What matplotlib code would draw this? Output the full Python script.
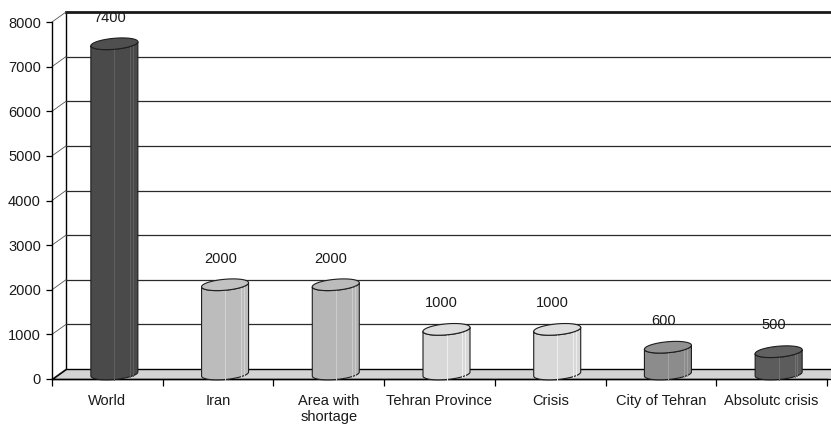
import numpy as np
import matplotlib
matplotlib.use("Agg")
import matplotlib.pyplot as plt
from matplotlib.patches import Polygon

categories = ["World", "Iran", "Area with\nshortage", "Tehran Province",
              "Crisis", "City of Tehran", "Absolutc crisis"]
values = [7400, 2000, 2000, 1000, 1000, 600, 500]
bar_colors = ["#4a4a4a", "#bcbcbc", "#b6b6b6", "#d8d8d8",
              "#d8d8d8", "#8c8c8c", "#5c5c5c"]
y_ticks = [0, 1000, 2000, 3000, 4000, 5000, 6000, 7000, 8000]

plt.rcParams['font.family'] = ['Liberation Sans', 'DejaVu Sans']
TEXT = "#1a1a1a"
FS = 10.5

W, H = 831, 425
fig = plt.figure(figsize=(W / 100, H / 100), dpi=100)
fx0, fx1, fy0, fy1 = 52, 827, 379, 22
ax = fig.add_axes([fx0 / W, 1 - fy0 / H, (fx1 - fx0) / W, (fy0 - fy1) / H])
n = len(categories)
ymax = y_ticks[-1]
ax.set_xlim(-0.5, n - 0.5)
ax.set_ylim(0, ymax)

# pixel scale of the data units, used for the oblique depth of the 3-D box
px_x = (fx1 - fx0) / n
px_y = (fy0 - fy1) / ymax
dx = 14 / px_x
dy = 10 / px_y

# back wall
ax.plot([-0.5 + dx] * 2, [dy, ymax + dy], color="black", lw=1, clip_on=False, zorder=1)
ax.plot([-0.5 + dx, n - 0.5 + 2 * dx], [ymax + dy] * 2, color="#1a1a1a", lw=2,
        clip_on=False, zorder=1)
for v in y_ticks[1:-1]:
    ax.plot([-0.5 + dx, n - 0.5 + 2 * dx], [v + dy] * 2, color="#2a2a2a", lw=0.9,
            clip_on=False, zorder=1)
for v in y_ticks:
    ax.plot([-0.5, -0.5 + dx], [v, v + dy], color="#555555", lw=0.6,
            clip_on=False, zorder=1)

# floor
floor = Polygon([(-0.5, 0), (n - 0.5 + 2 * dx, 0), (n - 0.5 + 2 * dx, dy), (-0.5 + dx, dy)],
                closed=True, facecolor="#d4d4d4", edgecolor="black", lw=1,
                clip_on=False, zorder=2)
ax.add_patch(floor)

# cylinders
half_w = 0.5 * 47 / px_x
ry = 5.5 / px_y
shear = (4 / px_y) / (47 / px_x)


def shade(c, f):
    rgb = np.array(matplotlib.colors.to_rgb(c))
    return tuple(np.clip(rgb + f, 0, 1))


def cylinder(cx, base, top, color):
    tf = np.linspace(np.pi, 2 * np.pi, 80)
    xs = cx + half_w * np.cos(tf)
    bot = base + ry * np.sin(tf) + shear * (xs - cx)
    topf = top + ry * np.sin(tf) + shear * (xs - cx)
    body = np.vstack([np.column_stack([xs, bot]),
                      np.column_stack([xs[::-1], topf[::-1]])])
    ax.add_patch(Polygon(body, closed=True, facecolor=color, edgecolor="#1e1e1e",
                         lw=0.8, clip_on=False, zorder=3))
    for f in (0.0, 0.68, 0.8):
        xl = cx + f * half_w
        tl = np.arccos(f)
        yb = base - ry * np.sin(tl) + shear * (xl - cx)
        yt = top - ry * np.sin(tl) + shear * (xl - cx)
        ax.plot([xl, xl], [yb, yt], color=shade(color, 0.09), lw=0.7,
                clip_on=False, zorder=3.1)
    ta = np.linspace(0, 2 * np.pi, 120)
    ex = cx + half_w * np.cos(ta)
    ey = top + ry * np.sin(ta) + shear * (ex - cx)
    ax.add_patch(Polygon(np.column_stack([ex, ey]), closed=True,
                         facecolor=shade(color, 0.02), edgecolor="#1e1e1e",
                         lw=0.8, clip_on=False, zorder=3.2))


for i, (v, c) in enumerate(zip(values, bar_colors)):
    cx = i + dx / 2
    cylinder(cx, dy / 2, v + dy / 2, c)
    ax.text(i + 0.02, v + 700, f"{v}", ha="center", va="center",
            fontsize=FS, color=TEXT, zorder=4)

# axes, ticks and labels
for s in ("top", "right"):
    ax.spines[s].set_visible(False)
ax.spines["left"].set_linewidth(1)
ax.spines["bottom"].set_linewidth(1)
ax.spines["left"].set_zorder(2.5)
ax.spines["bottom"].set_zorder(2.5)

ax.set_yticks(y_ticks)
ax.set_yticklabels([str(t) for t in y_ticks])
ax.tick_params(axis="y", length=4, width=0.9, pad=4, labelsize=FS, labelcolor=TEXT)

ax.set_xticks(range(n))
ax.set_xticklabels(categories, fontsize=FS, linespacing=1.2, color=TEXT)
ax.set_xticks(np.arange(n + 1) - 0.5, minor=True)
ax.tick_params(axis="x", which="major", length=0, pad=10.5)
ax.tick_params(axis="x", which="minor", length=5, width=0.9, direction="out")

ax.set_facecolor("none")
fig.savefig("out.png", dpi=100)
